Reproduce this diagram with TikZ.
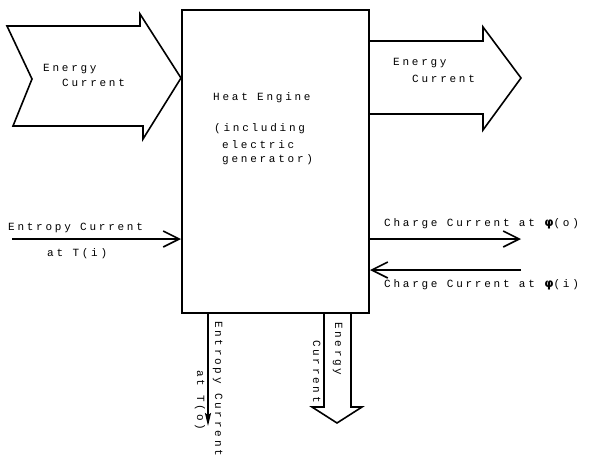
\documentclass[tikz,border=0pt]{standalone}
\usepackage{fontspec}
\usetikzlibrary{arrows.meta}
\newfontfamily\typew[LetterSpace=25]{Liberation Mono}
\newfontfamily\phifont{DejaVu Sans}
\newcommand{\phisym}{{\phifont\bfseries\fontsize{12}{12}\selectfont φ}}
\tikzset{
  lbl/.style={inner sep=0pt, anchor=base west, font=\typew\fontsize{11}{12}\selectfont},
  vlbl/.style={lbl, rotate=-90},
  block/.style={line width=1.6pt, line join=miter},
  flow/.style={line width=1.6pt, -{Straight Barb[length=16pt,width=16pt,line width=1.6pt]}},
  flowdown/.style={line width=1.6pt, -{Stealth[length=13pt,width=6pt,inset=2pt]}},
}
\begin{document}
\begin{tikzpicture}[x=1pt,y=-1pt]
\useasboundingbox (0,0) rectangle (592,464);
% engine box
\node[draw, line width=2pt, minimum width=187pt, minimum height=303pt, anchor=north west, inner sep=0pt] (engine) at (181,9) {};
\node[lbl] (t1) at (213,100) {Heat Engine};
\node[lbl] (t2) at (214,131) {(including};
\node[lbl] (t3) at (222,148) {electric};
\node[lbl] (t4) at (222,162) {generator)};
% left energy block arrow
\draw[block] (7,26) -- (140,26) -- (140,14) -- (engine.west |- 0,78) -- (143,139) -- (143,126) -- (13,126) -- (32,79) -- cycle;
\node[lbl] (le1) at (43,71) {Energy};
\node[lbl] (le2) at (62,86) {Current};
% right energy block arrow
\draw[block] (engine.east |- 0,41) -- (483,41) -- (483,27) -- (521,78) -- (483,130) -- (483,114) -- (engine.east |- 0,114);
\node[lbl] (re1) at (393,65) {Energy};
\node[lbl] (re2) at (412,82) {Current};
% entropy in
\coordinate (sin) at (12,239);
\draw[flow] (sin) -- (engine.west |- sin);
\node[lbl] (si1) at (8,230) {Entropy Current};
\node[lbl] (si2) at (47,256) {at T(i)};
% charge out
\coordinate (cout) at (521,239);
\draw[flow] (engine.east |- cout) -- (cout);
\node[lbl] (co) at (384,226) {Charge Current at \phisym(o)};
% charge in
\coordinate (cin) at (521,270);
\draw[flow] (cin) -- (engine.east |- cin);
\node[lbl] (ci) at (384,287) {Charge Current at \phisym(i)};
% entropy out
\coordinate (sout) at (208,426);
\draw[flowdown] (engine.south -| sout) -- (sout);
\node[vlbl] (so1) at (215,321) {Entropy Current};
\node[vlbl] (so2) at (197,370) {at T(o)};
% bottom energy block arrow
\draw[block] (engine.south -| 324,0) -- (324,407) -- (312,407) -- (337,423) -- (362,407) -- (351,407) -- (engine.south -| 351,0);
\node[vlbl] (be1) at (335,322) {Energy};
\node[vlbl] (be2) at (313,340) {Current};
\end{tikzpicture}
\end{document}
